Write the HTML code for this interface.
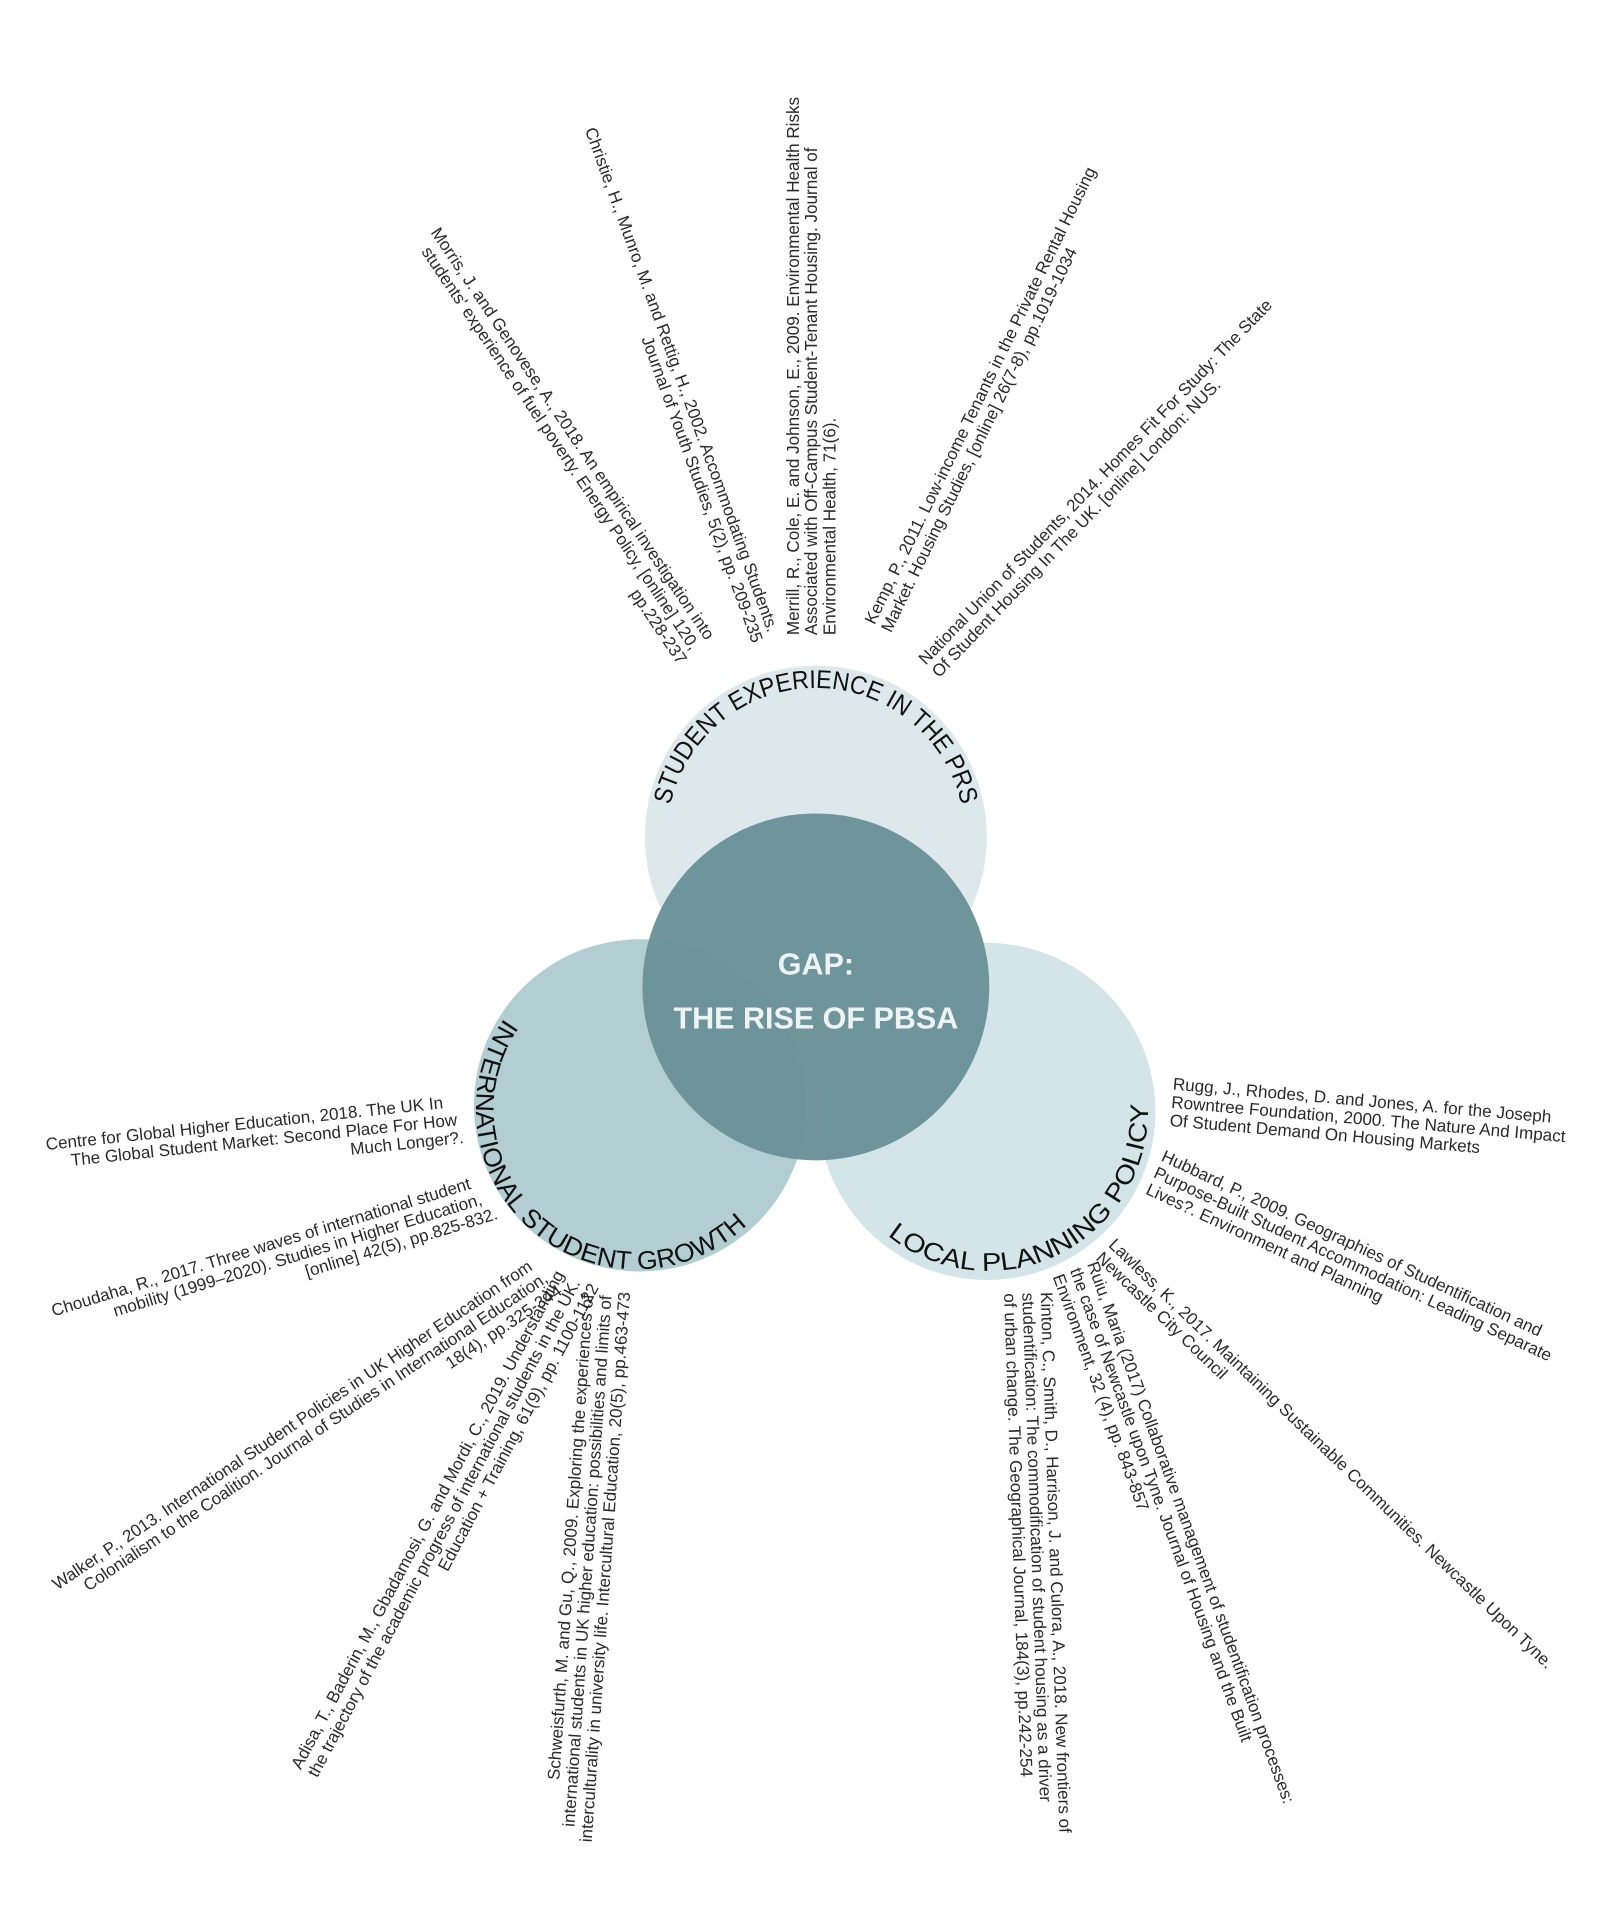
<!DOCTYPE html>
<html><head><meta charset="utf-8"><style>
html,body{margin:0;padding:0;background:#fff;}
svg{display:block;}
.r{font-family:"Liberation Sans",sans-serif;font-size:14px;fill:#2a2a2a;}
.t{font-family:"Liberation Sans",sans-serif;font-size:21px;fill:#111;}
.c{font-family:"Liberation Sans",sans-serif;font-size:25px;font-weight:bold;fill:#eef3f3;}
</style></head><body>
<svg width="1600" height="1917" viewBox="0 0 1310 1569.5" xmlns="http://www.w3.org/2000/svg">
<defs>
<path id="pTop" d="M547.9,663.8 A122,122 0 0 1 788.1,663.8"/>
<path id="pLeft" d="M421,823 A131,131 0 0 0 621,993"/>
<path id="pRight" d="M722.7,1008.1 A131,131 0 0 0 939.5,898.7"/>
</defs>
<rect width="1310" height="1570" fill="#fff"/>
<circle cx="668" cy="685" r="140" fill="#dce8eb"/>
<circle cx="808" cy="910" r="138" fill="#d4e5ea"/>
<circle cx="524" cy="905" r="136" fill="#b3ced2"/>
<circle cx="668" cy="808" r="142" fill="#6a9298" opacity="0.96"/>

<text class="t"><textPath href="#pTop" startOffset="50%" text-anchor="middle" textLength="330" lengthAdjust="spacingAndGlyphs">STUDENT EXPERIENCE IN THE PRS</textPath></text>
<text class="t"><textPath href="#pLeft" startOffset="50%" text-anchor="middle" textLength="385" lengthAdjust="spacingAndGlyphs">INTERNATIONAL STUDENT GROWTH</textPath></text>
<text class="t"><textPath href="#pRight" startOffset="50%" text-anchor="middle" textLength="300" lengthAdjust="spacingAndGlyphs">LOCAL PLANNING POLICY</textPath></text>

<text class="c" x="668" y="798" text-anchor="middle">GAP:</text>
<text class="c" x="668" y="842" text-anchor="middle">THE RISE OF PBSA</text>

<!-- top -->
<g transform="translate(580,528) rotate(56)"><text class="r" text-anchor="end">
<tspan x="0" y="0">Morris, J. and Genovese, A., 2018. An empirical investigation into</tspan>
<tspan x="0" y="15">students' experience of fuel poverty. Energy Policy, [online] 120,</tspan>
<tspan x="0" y="30">pp.228-237</tspan></text></g>
<g transform="translate(630,522) rotate(70)"><text class="r" text-anchor="end">
<tspan x="0" y="0">Christie, H., Munro, M. and Rettig, H., 2002. Accommodating Students.</tspan>
<tspan x="0" y="15">Journal of Youth Studies, 5(2), pp. 209-235</tspan></text></g>
<g transform="translate(654,520) rotate(-90)"><text class="r">
<tspan x="0" y="0">Merrill, R., Cole, E. and Johnson, E., 2009. Environmental Health Risks</tspan>
<tspan x="0" y="15">Associated with Off-Campus Student-Tenant Housing. Journal of</tspan>
<tspan x="0" y="30">Environmental Health, 71(6).</tspan></text></g>
<g transform="translate(716,512) rotate(-64)"><text class="r">
<tspan x="0" y="0">Kemp, P., 2011. Low-income Tenants in the Private Rental Housing</tspan>
<tspan x="0" y="15">Market. Housing Studies, [online] 26(7-8), pp.1019-1034</tspan></text></g>
<g transform="translate(758,545) rotate(-46)"><text class="r">
<tspan x="0" y="0">National Union of Students, 2014. Homes Fit For Study: The State</tspan>
<tspan x="0" y="15">Of Student Housing In The UK. [online] London: NUS.</tspan></text></g>

<!-- left -->
<g transform="translate(367,907) rotate(-6)"><text class="r" text-anchor="end">
<tspan x="0" y="0">Centre for Global Higher Education, 2018. The UK In</tspan>
<tspan x="10" y="15">The Global Student Market: Second Place For How</tspan>
<tspan x="10" y="30">Much Longer?.</tspan></text></g>
<g transform="translate(390,972) rotate(-17)"><text class="r" text-anchor="end">
<tspan x="0" y="0">Choudaha, R., 2017. Three waves of international student</tspan>
<tspan x="5" y="15">mobility (1999–2020).    Studies in Higher Education,</tspan>
<tspan x="10" y="30">[online] 42(5), pp.825-832.</tspan></text></g>
<g transform="translate(440,1037) rotate(-34)"><text class="r" text-anchor="end">
<tspan x="0" y="0">Walker, P., 2013. International Student Policies in UK Higher Education from</tspan>
<tspan x="5" y="15">Colonialism to the Coalition. Journal of Studies in International Education,</tspan>
<tspan x="5" y="30">18(4), pp.325-344</tspan></text></g>
<g transform="translate(464,1040) rotate(-62)"><text class="r" text-anchor="end">
<tspan x="0" y="0">Adisa, T., Baderin, M., Gbadamosi, G. and Mordi, C., 2019. Understanding</tspan>
<tspan x="0" y="15">the trajectory of the academic progress of international students in the UK.</tspan>
<tspan x="0" y="30">Education + Training, 61(9), pp. 1100-1122</tspan></text></g>
<g transform="translate(486,1056) rotate(-86)"><text class="r" text-anchor="end">
<tspan x="0" y="0">Schweisfurth, M. and Gu, Q., 2009. Exploring the experiences of</tspan>
<tspan x="0" y="15">international students in UK higher education: possibilities and limits of</tspan>
<tspan x="0" y="30">interculturality in university life. Intercultural Education, 20(5), pp.463-473</tspan></text></g>

<!-- right -->
<g transform="translate(852,1058) rotate(88)"><text class="r">
<tspan x="0" y="0">Kinton, C., Smith, D., Harrison, J. and Culora, A., 2018. New frontiers of</tspan>
<tspan x="0" y="15">studentification: The commodification of student housing as a driver</tspan>
<tspan x="0" y="30">of urban change. The Geographical Journal, 184(3), pp.242-254</tspan></text></g>
<g transform="translate(890,1035) rotate(70)"><text class="r">
<tspan x="0" y="0">Ruiu, Maria (2017) Collaborative management of studentification processes:</tspan>
<tspan x="0" y="15">the case of Newcastle upon Tyne. Journal of Housing and the Built</tspan>
<tspan x="0" y="30">Environment, 32 (4), pp. 843-857</tspan></text></g>
<g transform="translate(907,1020) rotate(44)"><text class="r">
<tspan x="0" y="0">Lawless, K., 2017. Maintaining Sustainable Communities. Newcastle Upon Tyne.</tspan>
<tspan x="0" y="15">Newcastle City Council</tspan></text></g>
<g transform="translate(950,950) rotate(25)"><text class="r">
<tspan x="0" y="0">Hubbard, P., 2009. Geographies of Studentification and</tspan>
<tspan x="0" y="15">Purpose-Built Student Accommodation: Leading Separate</tspan>
<tspan x="0" y="30">Lives?. Environment and Planning</tspan></text></g>
<g transform="translate(960,892) rotate(5)"><text class="r">
<tspan x="0" y="0">Rugg, J., Rhodes, D. and Jones, A. for the Joseph</tspan>
<tspan x="0" y="15">Rowntree Foundation, 2000. The Nature And Impact</tspan>
<tspan x="0" y="30">Of Student Demand On Housing Markets</tspan></text></g>
</svg>
</body></html>
